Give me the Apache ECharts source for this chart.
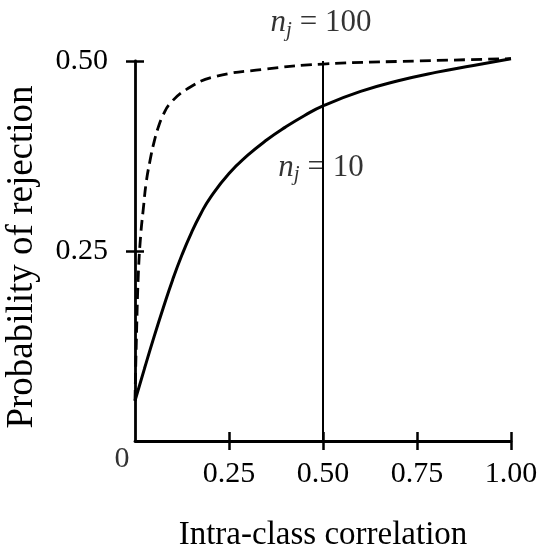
<!DOCTYPE html>
<html><head><meta charset="utf-8">
<script src="https://cdn.jsdelivr.net/npm/echarts@6/dist/echarts.min.js"></script>
<style>html,body{margin:0;padding:0;background:#fff}#c{width:538px;height:553px}</style>
</head><body><div id="c"></div>
<script>
// ---- data ----
const xTickValues = [0, 0.25, 0.5, 0.75, 1.0];
const xTickLabels = ['', '0.25', '0.50', '0.75', '1.00'];
const yTickValues = [0, 0.25, 0.5];
const yTickLabels = ['', '0.25', '0.50'];
const xTitle = 'Intra-class correlation';
const yTitle = 'Probability of rejection';

// n_j = 10 (solid)
const solidX = [0, 0.025, 0.05, 0.075, 0.1, 0.125, 0.15, 0.175, 0.2, 0.25, 0.3, 0.35, 0.4, 0.45, 0.5, 0.6, 0.7, 0.8, 0.9, 1.0];
const solidY = [0.053, 0.095, 0.136, 0.175, 0.212, 0.245, 0.274, 0.299, 0.32, 0.352, 0.376, 0.396, 0.413, 0.428, 0.441, 0.46, 0.474, 0.485, 0.494, 0.503];

// n_j = 100 (dashed)
const dashX = [0, 0.004, 0.009, 0.015, 0.022, 0.03, 0.04, 0.05, 0.062, 0.075, 0.093, 0.138, 0.209, 0.342, 0.5, 0.75, 1.0];
const dashY = [0.053, 0.14, 0.221, 0.27, 0.305, 0.341, 0.369, 0.392, 0.413, 0.429, 0.444, 0.463, 0.479, 0.489, 0.496, 0.5, 0.503];

// vertical reference line at rho = 0.50
const refX = [0.5, 0.5];
const refY = [0, 0.5];

// annotations
const annX = [0.5, 0.5, 0];
const annY = [0.5, 0.36, 0];
const annText = ['{n|n}{j|j}{r| = 100}', '{n|n}{j|j}{r| = 10}', '{o|0}'];

// ---- chart ----
const FONT = 'Liberation Serif';
const zip = (a, b) => a.map((v, i) => [v, b[i]]);
const chart = echarts.init(document.getElementById('c'), null, {renderer: 'canvas'});
const richStyle = {
  n: {fontFamily: FONT, fontStyle: 'italic', fontSize: 31, color: '#000', lineHeight: 36},
  j: {fontFamily: FONT, fontStyle: 'italic', fontSize: 21, color: '#000', lineHeight: 21, verticalAlign: 'bottom'},
  r: {fontFamily: FONT, fontSize: 31, color: '#000', lineHeight: 36},
  o: {fontFamily: FONT, fontSize: 30, color: '#000', lineHeight: 34}
};
const annOffsets = [[-2, -38], [-2, 0], [-13, 18]];

chart.setOption({
  backgroundColor: '#fff',
  animation: false,
  grid: {left: 135, right: 27, top: 61, bottom: 112, containLabel: false, outerBoundsMode: 'none'},
  xAxis: [{
    type: 'value', min: 0, max: 1, interval: 0.25, position: 'bottom',
    name: xTitle, nameLocation: 'middle', nameGap: 78,
    nameTextStyle: {fontFamily: FONT, fontSize: 33, color: '#000'},
    axisLine: {show: true, onZero: false, lineStyle: {color: '#000', width: 2.8}},
    axisTick: {show: true, length: 9, customValues: xTickValues.slice(1), lineStyle: {color: '#000', width: 2.5}},
    axisLabel: {margin: 18, fontFamily: FONT, fontSize: 30, color: '#000',
      formatter: v => { const i = xTickValues.findIndex(t => Math.abs(t - v) < 1e-9); return i >= 0 ? xTickLabels[i] : ''; }},
    splitLine: {show: false}
  }, {
    type: 'value', min: 0, max: 1, interval: 0.25, position: 'bottom', offset: 0,
    axisLine: {show: false},
    axisTick: {show: true, inside: true, length: 9, customValues: xTickValues.slice(1), lineStyle: {color: '#000', width: 2.5}},
    axisLabel: {show: false}, splitLine: {show: false}
  }],
  yAxis: [{
    type: 'value', min: 0, max: 0.5, interval: 0.25, position: 'left',
    name: yTitle, nameLocation: 'middle', nameGap: 94,
    nameTextStyle: {fontFamily: FONT, fontSize: 37, color: '#000', padding: [0, 12, 0, 0]},
    axisLine: {show: true, onZero: false, lineStyle: {color: '#000', width: 2.8}},
    axisTick: {show: true, length: 9, customValues: yTickValues.slice(1), lineStyle: {color: '#000', width: 2.5}},
    axisLabel: {margin: 27, fontFamily: FONT, fontSize: 30, color: '#000',
      formatter: v => { const i = yTickValues.findIndex(t => Math.abs(t - v) < 1e-9); return i >= 0 ? yTickLabels[i] : ''; }},
    splitLine: {show: false}
  }, {
    type: 'value', min: 0, max: 0.5, interval: 0.25, position: 'left', offset: 0,
    axisLine: {show: false},
    axisTick: {show: true, inside: true, length: 9, customValues: yTickValues.slice(1), lineStyle: {color: '#000', width: 2.5}},
    axisLabel: {show: false}, splitLine: {show: false}
  }],
  series: [{
    type: 'line', name: 'n_j = 10', data: zip(solidX, solidY),
    showSymbol: false, smooth: 0.5, clip: false,
    lineStyle: {color: '#000', width: 3}
  }, {
    type: 'line', name: 'n_j = 100', data: zip(dashX, dashY),
    showSymbol: false, smooth: 0.45, clip: false,
    lineStyle: {color: '#000', width: 2.8, type: [11, 6]}
  }, {
    type: 'line', name: 'ref', data: zip(refX, refY),
    showSymbol: false, clip: false,
    lineStyle: {color: '#000', width: 2}
  }, {
    type: 'scatter', name: 'labels', symbolSize: 0, clip: false, silent: true,
    data: annX.map((x, i) => ({
      value: [x, annY[i]],
      label: {show: true, position: 'inside', formatter: annText[i], rich: richStyle,
        align: 'center', verticalAlign: 'middle', offset: annOffsets[i]}
    }))
  }]
});
</script>
</body></html>
